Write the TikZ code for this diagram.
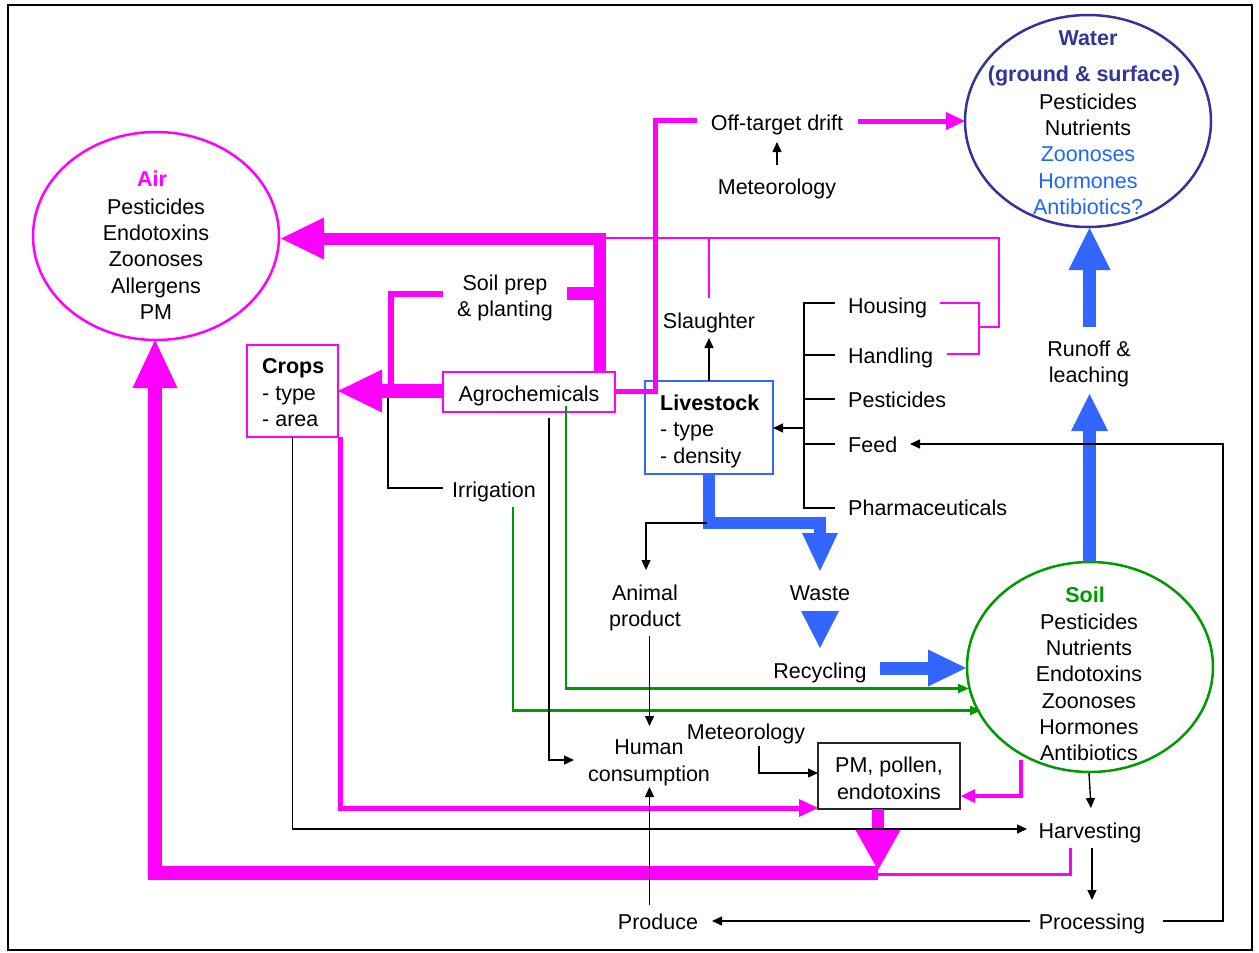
\documentclass[tikz,border=0pt]{standalone}
\usepackage{fontspec}
\setmainfont{Liberation Sans}
\usetikzlibrary{arrows.meta,shapes.geometric}
\definecolor{magc}{HTML}{FF00FF}
\definecolor{bluec}{HTML}{3366FF}
\definecolor{navyc}{HTML}{333399}
\definecolor{grnc}{HTML}{009900}
\definecolor{tbluec}{HTML}{1A66FF}
\begin{document}
\begin{tikzpicture}[x=1pt,y=-1pt,
  every node/.style={font=\fontsize{21.5}{26.3}\selectfont, inner sep=0pt, align=center,
    execute at begin node=\strut, execute at end node=\strut},
  bt/.style={font=\fontsize{21.5}{26.3}\selectfont\bfseries},
  blkline/.style={draw=black, line width=1.4pt},
  sh/.style={-{Triangle[length=10pt,width=9pt]}},
  magthin/.style={draw=magc, line width=2.5pt},
  grnline/.style={draw=grnc, line width=2.5pt, -{Triangle[length=11pt,width=9pt]}},
  boxm/.style={draw, inner sep=0pt}
]
\useasboundingbox (0,0) rectangle (1259,953);
\draw[line width=2pt] (8,5) rectangle (1252,950);

% ---------- nodes ----------
\node[ellipse, draw=magc, line width=2.5pt, minimum width=246pt, minimum height=208pt] (air) at (156,236) {};
\node[bt, text=magc] (airt) at (152,181) {Air};
\node (airl) at (156,263) {Pesticides\\Endotoxins\\Zoonoses\\Allergens\\PM};

\node[ellipse, draw=navyc, line width=2.5pt, minimum width=246pt, minimum height=212pt] (water) at (1088,121) {};
\node[bt, text=navyc] (watert) at (1088,40) {Water};
\node[bt, text=navyc] (waters) at (1084,76) {(ground \& surface)};
\node (waterl) at (1088,158) {Pesticides\\Nutrients\\\textcolor{tbluec}{Zoonoses}\\\textcolor{tbluec}{Hormones}\\\textcolor{tbluec}{Antibiotics?}};

\node[ellipse, draw=grnc, line width=2.5pt, minimum width=246pt, minimum height=210pt] (soil) at (1090,667) {};
\node[bt, text=grnc] (soilt) at (1085,597) {Soil};
\node (soill) at (1089,691) {Pesticides\\Nutrients\\Endotoxins\\Zoonoses\\Hormones\\Antibiotics};

\node[boxm, draw=magc, line width=1.5pt, minimum width=91pt, minimum height=92pt] (crops) at (292.5,391) {};
\node[anchor=west, align=left] (cropst) at (262,396.5) {\textbf{Crops}\\- type\\- area};

\node[boxm, draw=magc, line width=2.5pt, minimum width=172pt, minimum height=40pt] (agro) at (529,392) {};
\node (agrot) at (529,396) {Agrochemicals};

\node[boxm, draw=bluec, line width=1.3pt, minimum width=128pt, minimum height=93pt] (live) at (709,427.5) {};
\node[anchor=west, align=left] (livet) at (660,433) {\textbf{Livestock}\\- type\\- density};

\node[boxm, draw=black!85, line width=1.5pt, minimum width=142pt, minimum height=66pt] (pm) at (889,776) {};
\node (pmt) at (889,782) {PM, pollen,\\endotoxins};

\node (drift) at (777,125) {Off-target drift};
\node (met1) at (777,189) {Meteorology};
\node (soilprep) at (505,299.5) {Soil prep\\\& planting};
\node (slaughter) at (709,323) {Slaughter};
\node[anchor=west] (housing) at (848,308) {Housing};
\node[anchor=west] (handling) at (848,358) {Handling};
\node[anchor=west] (pest) at (848,402) {Pesticides};
\node[anchor=west] (feed) at (848,447) {Feed};
\node[anchor=west] (pharma) at (848,510) {Pharmaceuticals};
\node (runoff) at (1089,365.5) {Runoff \&\\leaching};
\node (irrig) at (494,492) {Irrigation};
\node (animal) at (645,609.5) {Animal\\product};
\node (waste) at (820,595) {Waste};
\node (recyc) at (820,673) {Recycling};
\node (human) at (649,764.5) {Human\\consumption};
\node (met2) at (746,734) {Meteorology};
\node (harv) at (1090,833) {Harvesting};
\node (proc) at (1092,924) {Processing};
\node (produce) at (658,924) {Produce};

% ---------- magenta connectors ----------
\draw[magc, line width=12pt, -{Triangle[length=43pt,width=42pt,line width=0pt]}] (600,373) -- (600,238.5) -- (281,238.5);
\draw[magc, line width=13pt] (567,293.5) -- (600,293.5);
\draw[magc, line width=6pt] (443,294) -- (391,294) -- (391,392);
\draw[magc, line width=14pt, -{Triangle[length=44pt,width=43pt,line width=0pt]}] (443,391) -- (338,391);
\draw[magc, line width=5pt] (615,391) -- (655.5,391) -- (655.5,120.5) -- (697,120.5);
\draw[magc, line width=5pt, -{Triangle[length=19pt,width=18pt,line width=0pt]}] (858,121) -- (965,121);
\draw[magthin] (600,238) -- (999,238) -- (999,327) -- (979,327);
\draw[magthin] (940,303) -- (979,303) -- (979,354) -- (947,354);
\draw[magthin] (709,238) -- (709,298);
\draw[magc, line width=5pt, -{Triangle[length=19pt,width=18pt,line width=0pt]}] (340.5,437) -- (340.5,808) -- (818,808);
\draw[magc, line width=3.5pt, -{Triangle[length=14pt,width=14pt,line width=0pt]}] (1021,760) -- (1021,796) -- (961,796);
\draw[magc, line width=12pt, -{Triangle[length=40pt,width=45pt,line width=0pt]}] (878,809) -- (878,870);
\draw[magc, line width=14pt, -{Triangle[length=48pt,width=45pt,line width=0pt]}] (878,873) -- (155,873) -- (155,340);
\draw[magc, line width=3pt] (1070,848) -- (1070,874) -- (878,874);

% ---------- blue connectors ----------
\draw[bluec, line width=12pt, -{Triangle[length=38pt,width=36pt,line width=0pt]}] (709,474) -- (709,522.5) -- (820,522.5) -- (820,571);
\fill[bluec] (801,611) -- (839,611) -- (820,648) -- cycle;
\draw[bluec, line width=13pt, -{Triangle[length=38pt,width=37pt,line width=0pt]}] (880,668) -- (966,668);
\draw[bluec, line width=13pt, -{Triangle[length=37pt,width=37pt,line width=0pt]}] (1089.5,562) -- (1089.5,394);
\draw[bluec, line width=13pt, -{Triangle[length=42pt,width=42pt,line width=0pt]}] (1089.5,327) -- (1089.5,228);

% ---------- green connectors ----------
\draw[grnline] (566,406) -- (566,688.5) -- (969,688.5);
\draw[grnline] (513,507) -- (513,710.5) -- (981,710.5);

% ---------- black connectors ----------
\draw[blkline, sh] (292.5,437) -- (292.5,829) -- (1027,829);
\draw[blkline] (388,398) -- (388,488) -- (443,488);
\draw[blkline, sh] (549,418) -- (549,760) -- (574,760);
\draw[blkline, sh] (649.5,636) -- (649.5,726);
\draw[blkline, sh] (649.5,905) -- (649.5,787);
\draw[blkline, sh] (759,746) -- (759,773) -- (818,773);
\draw[blkline, sh] (1089,773) -- (1091,808);
\draw[blkline, sh] (1092,848) -- (1092,900);
\draw[blkline, sh] (1030,921) -- (712,921);
\draw[blkline, sh] (1163,921) -- (1223,921) -- (1223,444) -- (910,444);
\draw[blkline] (835,303) -- (804,303) -- (804,508) -- (835,508);
\draw[blkline] (804,355) -- (835,355) (804,399) -- (835,399) (804,444) -- (835,444);
\draw[blkline, sh] (804,428) -- (773,428);
\draw[blkline, sh] (709,381) -- (709,338);
\draw[blkline, sh] (777,165) -- (777,142);
\draw[blkline, sh] (707,523) -- (646,523) -- (646,570);
\end{tikzpicture}
\end{document}
